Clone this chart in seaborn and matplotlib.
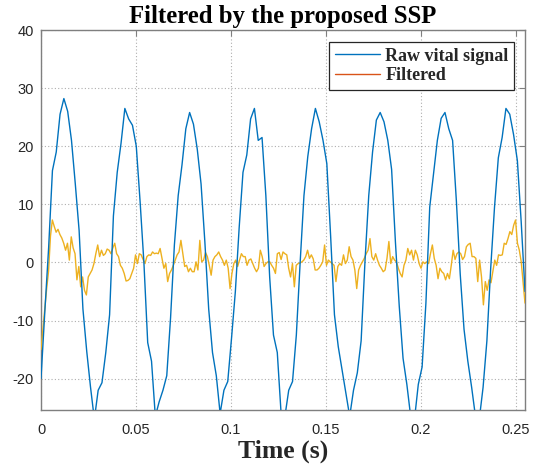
import numpy as np
import pandas as pd
import matplotlib
matplotlib.use("Agg")
import matplotlib.pyplot as plt
from matplotlib.lines import Line2D
import seaborn as sns

# ---------------- data ----------------
T_END = 0.255  # seconds, last sample time

raw_signal = [
    -20, -8.5, 2.5, 15.8, 19, 25.5, 28.2, 26, 21, 13.5,
    5.5, -8, -15.3, -21.5, -27, -22, -20.7, -15.5, -9, 8,
    15.5, 20.5, 26.5, 24.7, 23.6, 20, 10.5, 0, -13.8, -17,
    -26.5, -24, -22, -19.5, -9.5, 3, 11.5, 16.8, 23, 25.8,
    23.8, 19.5, 13.5, 3.5, -8, -15.5, -19.5, -26, -22, -20.5,
    -13, -5, 6, 15.5, 18.5, 24.7, 26.5, 21, 21.5, 11.5,
    -2.5, -12.5, -15.5, -26, -26.5, -22, -20.5, -12.5, 0, 11.5,
    18.2, 23, 26.5, 24.2, 21, 17, 4.5, -9, -14.5, -18.5,
    -22.5, -26.5, -22, -19, -13.5, 0, 11.5, 19, 24.5, 25.8,
    24.2, 21, 16, 3.5, -7.5, -16.5, -21, -26.5, -27, -21,
    -18, -7, 9.5, 15.2, 21, 24.8, 25.8, 23, 21, 10.5,
    -2, -11.5, -17, -21.5, -26.5, -27, -21.5, -13.5, -1, 9.5,
    18, 21.5, 26.5, 25.5, 22, 17.5, 7, -5,
]

filtered_signal = [
    -15, -11.5, -8, -4.5, -1.5, 4.5, 7.3, 6.2, 5.2, 5.7,
    4.8, 4.2, 3.3, 2.1, 3.3, 0.4, 4.4, 2.5, 1.5, -3,
    -0.7, -4.2, -2.5, -4.8, -5.6, -2.5, -1.9, -1.3, -0.2, 1.5,
    3, 1, 2.1, 1.2, 1.5, 2.3, 2.1, 1.5, 2.5, 3.3,
    1.5, 1, -0.5, -1, -1.9, -3.2, -3.1, -2.8, -1.9, -1,
    1.3, -0.2, 1.5, 1.3, 0.5, -0.2, 1, 1.3, 1.2, 1.8,
    1.5, 1.6, 1.5, 2.4, 0.7, -1, -0.2, -3.3, -1.9, -1.3,
    -0.5, 0.4, 1.3, 1.8, 3.8, 1.5, -0.7, -0.5, -1.6, -1,
    -1.6, -1.6, 0.1, -1.3, 3.8, 0.1, 0.4, 1.7, 1, -0.5,
    -2.2, 0.4, 1, 1.3, 1.8, 1, 0.4, -0.5, 0.4, -1,
    -4.5, -1.9, -0.2, 0.4, -0.7, 0.4, 1.5, 1, 1, -0.5,
    0.4, 0.6, -0.2, -1, -1.6, -1, 2.1, 1, -0.7, -0.2,
    0.1, 0.1, -0.5, -1, -1.9, 1.5, 1.7, 0.5, 1.8, 1.5,
    1.3, -1, -2.5, -0.2, -4.2, -0.5, -0.2, -0.1, 0.1, 0.4,
    1, 2.1, 0.7, 1.3, 0.6, -1.3, -1.3, -1, -0.5, 0.1,
    3, -0.5, 0.4, 0.1, -0.2, -0.5, -3.3, -0.7, -0.2, -0.5,
    1.3, -0.2, 0.4, 2.7, 1, 0.4, -1.3, -4.5, -1.3, -0.5,
    0.1, 0.7, 1.5, 2.1, 4.1, 1, 0.4, 1.5, 0.4, -0.5,
    -1, -1.6, -1.3, 0.7, 3.6, -0.2, 1, 0.4, 0.1, -1,
    -1.9, -2.5, -0.5, 0.4, 2.4, 1.3, 2.1, 0.4, 2.1, 1.3,
    -0.2, -1, 0.1, -0.2, 0.1, -0.2, 1.5, 3, 0.7, -0.5,
    -2.8, -1, -1.6, -1.9, -3, -1.9, -2.8, -0.5, 2.1, 0.5,
    1.5, 1.8, 1.5, 0.5, 1, 2.7, 3.1, 3.3, 1, 1,
    0.7, -3.3, 0.4, -2.5, -7.3, -3.3, -4.8, -3, -3.5, -1.6,
    0.4, -0.5, 1.3, 1.2, 1.3, 3.3, 3.1, 4.1, 5.3, 4.8,
    6.4, 7.3, 3.3, 2.1, 0.1, -3.5, -7,
]

x_ticks = [0, 0.05, 0.1, 0.15, 0.2, 0.25]
x_tick_labels = ["0", "0.05", "0.1", "0.15", "0.2", "0.25"]
y_ticks = [-20, -10, 0, 10, 20, 30, 40]
y_tick_labels = ["-20", "-10", "0", "10", "20", "30", "40"]
series_labels = ["Raw vital signal", "Filtered"]

title_text = "Filtered by the proposed SSP"
xlabel_text = "Time (s)"

# ---------------- build frames ----------------
t_raw = np.linspace(0, T_END, len(raw_signal))
t_filt = np.linspace(0, T_END, len(filtered_signal))
df_raw = pd.DataFrame({"Time": t_raw, "Amplitude": raw_signal})
df_filt = pd.DataFrame({"Time": t_filt, "Amplitude": filtered_signal})

# ---------------- style ----------------
sns.set_style("white")
plt.rcParams["font.family"] = ["Liberation Sans", "DejaVu Sans"]

BLUE = "#0072BD"
YELLOW = "#EDB120"
ORANGE = "#D95319"
AXIS_GRAY = "#7f7f7f"
TEXT_DARK = "#262626"
SERIF = ["Liberation Serif", "DejaVu Serif"]

fig = plt.figure(figsize=(5.38, 4.66), dpi=100)
ax = fig.add_axes([41 / 538, 1 - 410 / 466, 484 / 538, 380 / 466])

sns.lineplot(data=df_filt, x="Time", y="Amplitude", color=YELLOW, lw=1.0,
             ax=ax, legend=False, zorder=3)
sns.lineplot(data=df_raw, x="Time", y="Amplitude", color=BLUE, lw=1.0,
             ax=ax, legend=False, zorder=4)

ax.set_xlim(0, T_END)
ax.set_ylim(-25.4, 40)
ax.set_xticks(x_ticks, x_tick_labels)
ax.set_yticks(y_ticks, y_tick_labels)

ax.grid(True, linestyle=(0, (1, 2)), color="#9a9a9a", lw=0.8, alpha=0.8)
ax.set_axisbelow(True)

for sp in ax.spines.values():
    sp.set_visible(True)
    sp.set_color(AXIS_GRAY)
    sp.set_linewidth(1.0)

ax.tick_params(axis="both", direction="in", length=4, width=0.8,
               top=True, right=True, color=AXIS_GRAY,
               labelcolor=TEXT_DARK, labelsize=10.5)
ax.tick_params(axis="x", pad=9)
ax.tick_params(axis="y", pad=5)

ax.set_title(title_text, fontfamily=SERIF, fontweight="bold",
             fontsize=17.8, pad=5, color="black")
ax.set_xlabel(xlabel_text, fontfamily=SERIF, fontweight="bold",
              fontsize=18.5, labelpad=2, color=TEXT_DARK)
ax.set_ylabel("")

handles = [Line2D([], [], color=BLUE, lw=1.0),
           Line2D([], [], color=ORANGE, lw=1.0)]
leg = ax.legend(handles, series_labels, loc="upper right",
                bbox_to_anchor=(0.977, 0.968), borderaxespad=0,
                prop={"family": SERIF, "weight": "bold", "size": 13},
                frameon=True, fancybox=False, edgecolor="#262626",
                handlelength=2.5, handletextpad=0.3, labelspacing=0.15,
                borderpad=0.3)
leg.get_frame().set_linewidth(0.9)
leg.get_frame().set_alpha(1)

fig.savefig("out.png", dpi=100)
